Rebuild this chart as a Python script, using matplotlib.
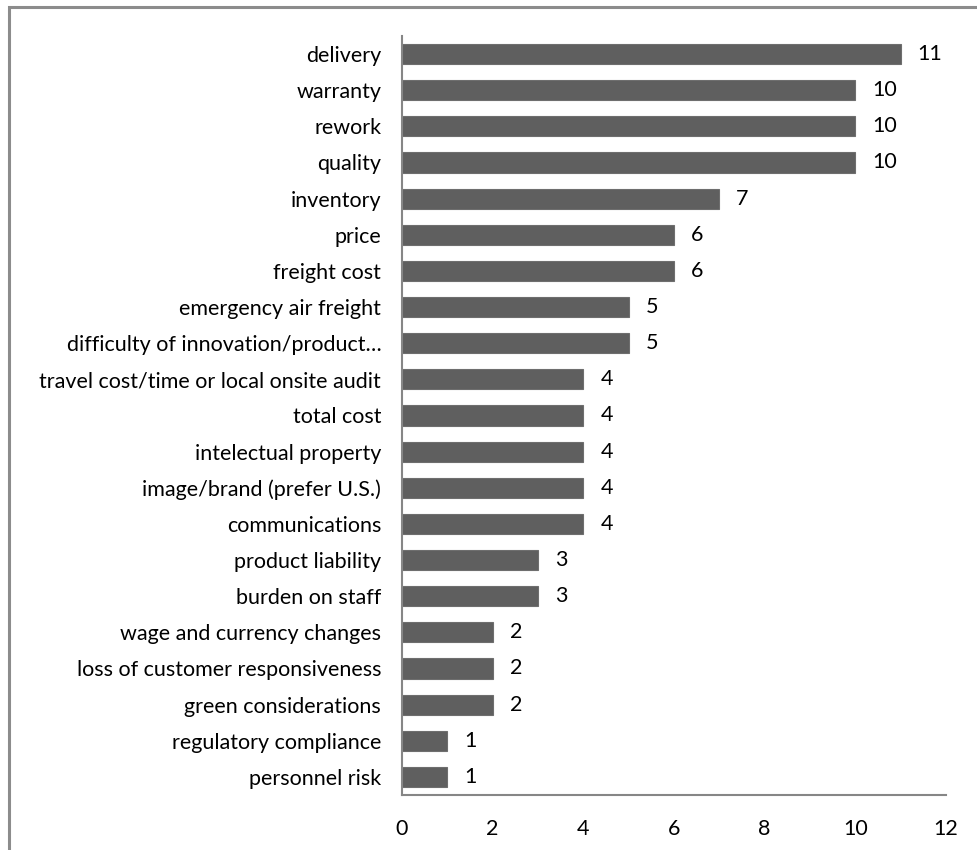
import matplotlib
matplotlib.use("Agg")
import matplotlib.pyplot as plt
from matplotlib.patches import Rectangle

categories = ["delivery", "warranty", "rework", "quality", "inventory", "price",
              "freight cost", "emergency air freight", "difficulty of innovation/product\u2026",
              "travel cost/time or local onsite audit", "total cost", "intelectual property",
              "image/brand (prefer U.S.)", "communications", "product liability",
              "burden on staff", "wage and currency changes", "loss of customer responsiveness",
              "green considerations", "regulatory compliance", "personnel risk"]
values = [11, 10, 10, 10, 7, 6, 6, 5, 5, 4, 4, 4, 4, 4, 3, 3, 2, 2, 2, 1, 1]
xticks = [0, 2, 4, 6, 8, 10, 12]

W, H = 978, 850
fig = plt.figure(figsize=(W/100, H/100), dpi=100)
plt.rcParams['font.family'] = ['Lato', 'DejaVu Sans']
FS = 15.5

# outer frame (right/bottom edges off canvas)
fig.patches.append(Rectangle((8.5/W, -0.1), 1.2, (H-7.5)/H + 0.1, transform=fig.transFigure,
                             fill=False, edgecolor='#8c8c8c', linewidth=2.2))

x0, x1 = 402, 946
y_top, y_bot = 36, 795
ax = fig.add_axes([x0/W, 1 - y_bot/H, (x1-x0)/W, (y_bot-y_top)/H])
n = len(categories)
ypos = list(range(n))
ax.barh(ypos, values, height=0.56, color='#5f5f5f', edgecolor='#6e6e6e', linewidth=0.8)
ax.set_ylim(n - 0.5, -0.5)
ax.set_xlim(0, 12)
ax.set_xticks(xticks)
ax.set_xticklabels([str(t) for t in xticks], fontsize=FS)
ax.set_yticks(ypos)
ax.set_yticklabels(categories, fontsize=FS)
ax.tick_params(axis='both', length=0, colors='black')
ax.tick_params(axis='y', pad=15)
ax.tick_params(axis='x', pad=17)
for s in ['top', 'right']:
    ax.spines[s].set_visible(False)
for s in ['left', 'bottom']:
    ax.spines[s].set_color('#868686')
    ax.spines[s].set_linewidth(1.5)
for y, v in zip(ypos, values):
    ax.annotate(str(v), (v, y), xytext=(17, 0), textcoords='offset pixels',
                va='center', ha='left', fontsize=FS)

fig.savefig("out.png", dpi=100, facecolor='white')
